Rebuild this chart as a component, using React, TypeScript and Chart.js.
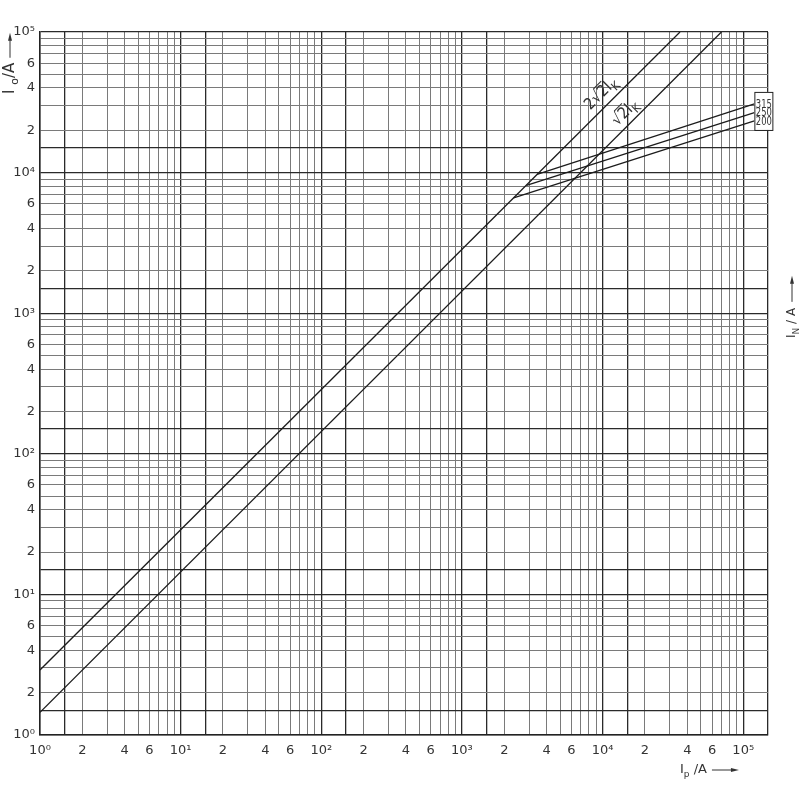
import React, { useEffect, useRef } from 'react';
import { Chart, registerables } from 'chart.js';
Chart.register(...registerables);

// Axis ranges
const X_MIN = 1;
const X_MAX = 150000;
const Y_MIN = 1;
const Y_MAX = 100000;

// Grid lines inside each decade, and which carry labels
const gridMultipliers = [1, 1.5, 2, 3, 4, 5, 6, 7, 8, 9];
const labelMultipliers = [2, 4, 6];
const strongMultipliers = [1, 1.5];

// Characteristic lines (Ip -> Io)
const upperLineX = [1, 35500];
const upperLineY = [2.9, 100000];
const lowerLineX = [1, 70000];
const lowerLineY = [1.45, 100000];

// Transformer rated currents (IN)
const ratingLabels = ['315', '250', '200'];
const rating315X = [3420, 120000];
const rating315Y = [9700, 30800];
const rating250X = [2880, 120000];
const rating250Y = [8100, 26700];
const rating200X = [2330, 120000];
const rating200Y = [6600, 23300];

const SUP: Record<string, string> = { '0': '⁰', '1': '¹', '2': '²', '3': '³', '4': '⁴', '5': '⁵' };
const INK = '#222';
const TEXT = '#333';
const FONT = '"DejaVu Sans", sans-serif';

function decomposeValue(v: number) {
  const e = Math.floor(Math.log10(v) + 1e-9);
  const m = Math.round((v / Math.pow(10, e)) * 1000) / 1000;
  return { e, m };
}

function buildTicks(max: number) {
  const out: number[] = [];
  for (let d = 0; d <= 5; d++) {
    for (const m of gridMultipliers) {
      const v = Math.round(m * Math.pow(10, d) * 1000) / 1000;
      if (v <= max * 1.0001) out.push(v);
    }
  }
  return out;
}

function tickLabel(value: number) {
  const { e, m } = decomposeValue(value);
  if (m === 1) return '10' + SUP[String(e)];
  if (labelMultipliers.includes(m)) return String(m);
  return '';
}

function isStrong(v: number, max: number) {
  if (v >= max * 0.9999) return true;
  const { m } = decomposeValue(v);
  return strongMultipliers.includes(m);
}

type Part = { t: string; sub?: boolean; over?: boolean; small?: boolean };

function drawRich(ctx: CanvasRenderingContext2D, parts: Part[], x: number, y: number, size: number, align: 'left' | 'center', angle: number, sx = 1) {
  ctx.save();
  ctx.translate(x, y);
  ctx.rotate(angle);
  ctx.scale(sx, 1);
  ctx.fillStyle = TEXT;
  ctx.strokeStyle = TEXT;
  ctx.textBaseline = 'middle';
  ctx.textAlign = 'left';
  const fontFor = (p: Part) => `${p.sub || p.small ? Math.round(size * 0.72) : size}px ${FONT}`;
  let total = 0;
  for (const p of parts) {
    ctx.font = fontFor(p);
    total += ctx.measureText(p.t).width;
  }
  let cx = align === 'center' ? -total / 2 : 0;
  for (const p of parts) {
    ctx.font = fontFor(p);
    const w = ctx.measureText(p.t).width;
    const dy = p.sub ? size * 0.35 : 0;
    ctx.fillText(p.t, cx, dy);
    if (p.over) {
      ctx.lineWidth = 1;
      ctx.beginPath();
      ctx.moveTo(cx - 1, -size * 0.55);
      ctx.lineTo(cx + w + 1, -size * 0.55);
      ctx.stroke();
    }
    cx += w;
  }
  ctx.restore();
  return total * sx;
}

function drawArrow(ctx: CanvasRenderingContext2D, x: number, y: number, len: number, angle: number) {
  ctx.save();
  ctx.translate(x, y);
  ctx.rotate(angle);
  ctx.strokeStyle = TEXT;
  ctx.fillStyle = TEXT;
  ctx.lineWidth = 1;
  ctx.beginPath();
  ctx.moveTo(0, 0);
  ctx.lineTo(len - 6, 0);
  ctx.stroke();
  ctx.beginPath();
  ctx.moveTo(len, 0);
  ctx.lineTo(len - 8, -2);
  ctx.lineTo(len - 8, 2);
  ctx.closePath();
  ctx.fill();
  ctx.restore();
}

const annotations = {
  id: 'annotations',
  afterDraw(chart: any) {
    const ctx: CanvasRenderingContext2D = chart.ctx;
    const xs = chart.scales.x;
    const ys = chart.scales.y;
    const px = (v: number) => xs.getPixelForValue(v);
    const py = (v: number) => ys.getPixelForValue(v);

    // Line labels along the characteristic lines
    const labelOn = (lx: number[], ly: number[], atX: number, offset: number, parts: Part[]) => {
      const x0 = px(lx[0]), y0 = py(ly[0]), x1 = px(lx[1]), y1 = py(ly[1]);
      const ang = Math.atan2(y1 - y0, x1 - x0);
      const ax = px(atX);
      const t = (ax - x0) / (x1 - x0);
      const ay = y0 + t * (y1 - y0);
      const nx = Math.sin(ang) * offset;
      const ny = -Math.cos(ang) * offset;
      drawRich(ctx, parts, ax + nx, ay + ny, 16, 'center', ang, 0.9);
    };
    labelOn(upperLineX, upperLineY, 11200, 12, [
      { t: '2' }, { t: '√' }, { t: '2', over: true }, { t: 'I' }, { t: 'K', sub: true },
    ]);
    labelOn(lowerLineX, lowerLineY, 16400, 11, [
      { t: '√' }, { t: '2', over: true }, { t: 'I' }, { t: 'K', sub: true },
    ]);

    // Rating box
    const bx = px(rating315X[1]);
    const ends = [rating315Y[1], rating250Y[1], rating200Y[1]].map(py);
    const top = ends[0] - 12;
    const bottom = ends[2] + 9;
    ctx.save();
    ctx.fillStyle = '#fff';
    ctx.fillRect(bx, top, 18, bottom - top);
    ctx.strokeStyle = INK;
    ctx.lineWidth = 1;
    ctx.strokeRect(bx + 0.5, top + 0.5, 18, bottom - top);
    ctx.fillStyle = TEXT;
    ctx.textBaseline = 'middle';
    ctx.textAlign = 'left';
    ctx.font = `12px ${FONT}`;
    ratingLabels.forEach((lab, i) => {
      ctx.save();
      ctx.translate(bx + 1.5, ends[i] + 0.5);
      ctx.scale(0.7, 1);
      ctx.fillText(lab, 0, 0);
      ctx.restore();
    });
    ctx.restore();

    // Axis titles
    const up = -Math.PI / 2;
    const wl = drawRich(ctx, [{ t: 'I ' }, { t: 'o', sub: true }, { t: '/A' }], 10, 94, 15, 'left', up);
    drawArrow(ctx, 10, 94 - wl - 5, 25, up);
    const wr = drawRich(ctx, [{ t: 'I' }, { t: 'N', sub: true }, { t: ' / A' }], 792, 338, 12, 'left', up);
    drawArrow(ctx, 792, 338 - wr - 6, 26, up);
    const wb = drawRich(ctx, [{ t: 'I' }, { t: 'p', sub: true }, { t: ' /A' }], 680, 770, 13, 'left', 0);
    drawArrow(ctx, 680 + wb + 5, 770, 27, 0);
  },
};

function gridOptions(max: number) {
  return {
    color: (c: any) => {
      const v = c.tick ? c.tick.value : 0;
      return isStrong(v, max) ? '#2a2a2a' : '#7a7a7a';
    },
    lineWidth: (c: any) => {
      const v = c.tick ? c.tick.value : 0;
      return isStrong(v, max) ? 1.3 : 1;
    },
    drawTicks: false,
  };
}

export default function App() {
  const ref = useRef<HTMLCanvasElement | null>(null);
  useEffect(() => {
    if (!ref.current) return;
    const mk = (xa: number[], ya: number[]) => xa.map((x, i) => ({ x, y: ya[i] }));
    const lineStyle = { showLine: true, pointRadius: 0, borderColor: '#1c1c1c', borderWidth: 1.3, fill: false };
    const chart = new Chart(ref.current, {
      type: 'scatter',
      data: {
        datasets: [
          { label: '2√2 IK', data: mk(upperLineX, upperLineY), ...lineStyle },
          { label: '√2 IK', data: mk(lowerLineX, lowerLineY), ...lineStyle },
          { label: '315', data: mk(rating315X, rating315Y), ...lineStyle },
          { label: '250', data: mk(rating250X, rating250Y), ...lineStyle },
          { label: '200', data: mk(rating200X, rating200Y), ...lineStyle },
        ],
      },
      options: {
        responsive: false,
        animation: false,
        devicePixelRatio: 1,
        layout: { padding: { top: 32, right: 32, left: 0, bottom: 0 } },
        plugins: { legend: { display: false }, tooltip: { enabled: false } },
        scales: {
          x: {
            type: 'logarithmic',
            min: X_MIN,
            max: X_MAX,
            afterBuildTicks: (s: any) => { s.ticks = buildTicks(X_MAX).map((v) => ({ value: v })); },
            afterFit: (s: any) => { s.height = 65; },
            grid: gridOptions(X_MAX),
            border: { display: true, color: INK, width: 1.5 },
            ticks: {
              autoSkip: false,
              maxRotation: 0,
              padding: 8,
              color: TEXT,
              font: { family: 'DejaVu Sans', size: 13 },
              callback: (v: any) => tickLabel(Number(v)),
            },
          },
          y: {
            type: 'logarithmic',
            min: Y_MIN,
            max: Y_MAX,
            afterBuildTicks: (s: any) => { s.ticks = buildTicks(Y_MAX).map((v) => ({ value: v })); },
            afterFit: (s: any) => { s.width = 40; },
            grid: gridOptions(Y_MAX),
            border: { display: true, color: INK, width: 1.5 },
            ticks: {
              autoSkip: false,
              padding: 5,
              color: TEXT,
              font: { family: 'DejaVu Sans', size: 13 },
              callback: (v: any) => tickLabel(Number(v)),
            },
          },
        },
      } as any,
      plugins: [annotations],
    });
    return () => chart.destroy();
  }, []);
  return (
    <div style={{ position: 'fixed', left: 0, top: 0, width: 800, height: 800, background: '#fff' }}>
      <canvas ref={ref} width={800} height={800} />
    </div>
  );
}
